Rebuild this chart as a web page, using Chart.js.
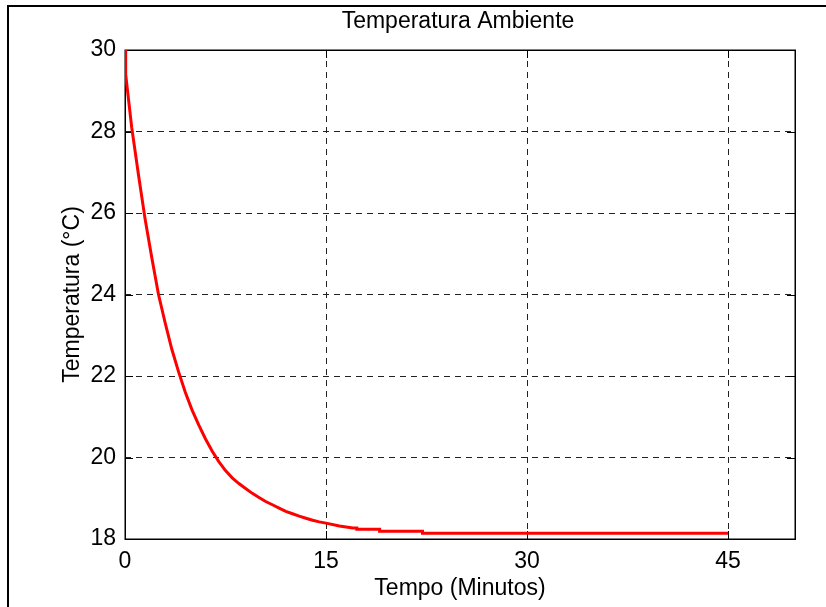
<!DOCTYPE html>
<html>
<head>
<meta charset="utf-8">
<script src="https://cdn.jsdelivr.net/npm/chart.js@4/dist/chart.umd.min.js"></script>
<style>
html,body{margin:0;padding:0;background:#fff;}
canvas{display:block;}
</style>
</head>
<body>
<canvas id="c" width="826" height="607"></canvas>
<script>
const chartTitle = "Temperatura Ambiente";
const xTitle = "Tempo (Minutos)";
const yTitle = "Temperatura (°C)";
const xTicks = [0, 15, 30, 45];
const yTicks = [18, 20, 22, 24, 26, 28, 30];
const timeMin = [0, 0.05, 0.5, 1, 1.5, 2, 2.5, 3, 3.5, 4, 4.5, 5, 5.5, 6, 6.5, 7, 7.5, 8, 8.5, 9, 9.5, 10, 10.5, 11, 11.5, 12, 12.5, 13, 13.5, 14, 14.5, 15, 16, 17, 17.3, 17.3, 19, 19, 22.2, 22.2, 45];
const tempC = [30, 29.4, 28.1, 26.95, 25.85, 24.9, 24.0, 23.3, 22.65, 22.1, 21.6, 21.17, 20.8, 20.46, 20.16, 19.9, 19.68, 19.5, 19.36, 19.24, 19.12, 19.02, 18.92, 18.84, 18.76, 18.68, 18.62, 18.56, 18.51, 18.46, 18.42, 18.39, 18.32, 18.27, 18.27, 18.24, 18.24, 18.19, 18.19, 18.14, 18.14];

const FONT = "'Liberation Sans', Arial, sans-serif";
const points = timeMin.map((t, i) => ({x: t, y: tempC[i]}));

const framePlugin = {
  id: 'frame',
  beforeDraw(chart) {
    const ctx = chart.ctx;
    ctx.save();
    ctx.fillStyle = '#fff';
    ctx.fillRect(0, 0, chart.width, chart.height);
    ctx.strokeStyle = '#000';
    ctx.lineWidth = 2;
    ctx.strokeRect(8, 6, chart.width + 20, chart.height + 20);
    ctx.restore();
  },
  beforeDatasetsDraw(chart) {
    const ctx = chart.ctx;
    const a = chart.chartArea;
    const xs = chart.scales.x, ys = chart.scales.y;
    ctx.save();
    ctx.strokeStyle = '#000';
    ctx.lineWidth = 1;
    const tl = 8;
    ctx.beginPath();
    xTicks.forEach(v => {
      const px = Math.round(xs.getPixelForValue(v)) + 0.5;
      ctx.moveTo(px, a.bottom); ctx.lineTo(px, a.bottom - tl);
      ctx.moveTo(px, a.top); ctx.lineTo(px, a.top + tl);
    });
    yTicks.forEach(v => {
      const py = Math.round(ys.getPixelForValue(v)) + 0.5;
      ctx.moveTo(a.left, py); ctx.lineTo(a.left + tl, py);
      ctx.moveTo(a.right, py); ctx.lineTo(a.right - tl, py);
    });
    ctx.stroke();
    ctx.lineWidth = 1.5;
    ctx.strokeRect(Math.round(a.left) + 0.25, Math.round(a.top) + 0.25, Math.round(a.right - a.left), Math.round(a.bottom - a.top));
    ctx.restore();
  }
};

new Chart(document.getElementById('c'), {
  type: 'scatter',
  data: {
    datasets: [{
      data: points,
      showLine: true,
      borderColor: '#ff0000',
      borderWidth: 3,
      pointRadius: 0,
      fill: false,
      tension: 0
    }]
  },
  options: {
    responsive: false,
    animation: false,
    layout: {padding: {left: 90, right: 0, top: 0, bottom: 0}},
    plugins: {
      legend: {display: false},
      tooltip: {enabled: false},
      title: {
        display: true,
        text: chartTitle,
        color: '#000',
        font: {family: FONT, size: 23, weight: 'normal'},
        padding: {top: 8, bottom: 14.4}
      }
    },
    scales: {
      x: {
        type: 'linear',
        min: 0,
        max: 50,
        afterBuildTicks: s => { s.ticks = xTicks.map(v => ({value: v})); },
        afterFit: s => { s.height = 68; },
        grid: {color: '#222', lineWidth: 1, drawTicks: false},
        border: {display: false, dash: [6, 5]},
        ticks: {color: '#000', font: {family: FONT, size: 23}, padding: 9, maxRotation: 0},
        title: {display: true, text: xTitle, color: '#000', font: {family: FONT, size: 23}, padding: {top: 0, bottom: 5}}
      },
      y: {
        type: 'linear',
        min: 18,
        max: 30,
        afterBuildTicks: s => { s.ticks = yTicks.map(v => ({value: v})); },
        afterFit: s => { s.width = 35; },
        grid: {color: '#222', lineWidth: 1, drawTicks: false},
        border: {display: false, dash: [6, 5]},
        ticks: {color: '#000', font: {family: FONT, size: 23}, padding: 9},
        title: {display: true, text: yTitle, color: '#000', font: {family: FONT, size: 23}, padding: {top: -31, bottom: 0}}
      },
      y2: {
        type: 'linear',
        position: 'right',
        display: true,
        afterFit: s => { s.width = 31; },
        grid: {display: false, drawTicks: false},
        border: {display: false},
        ticks: {display: false}
      }
    }
  },
  plugins: [framePlugin]
});
</script>
</body>
</html>
